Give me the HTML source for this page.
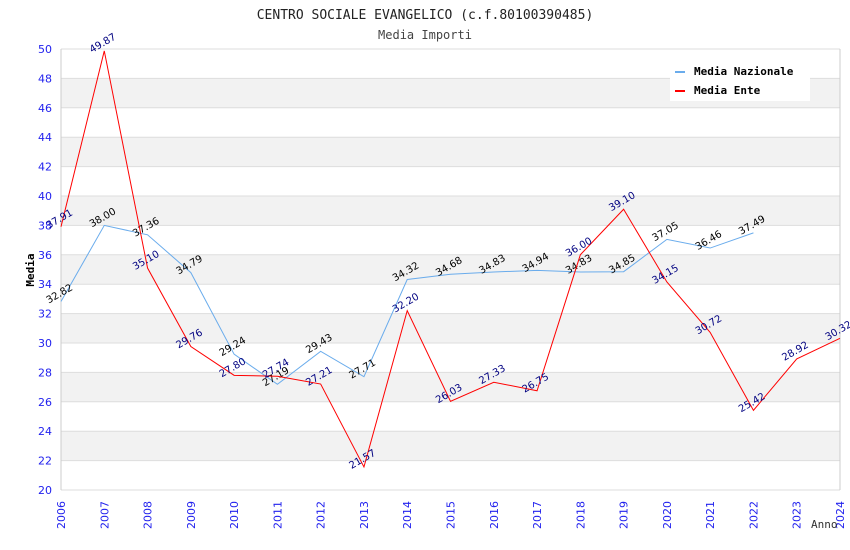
<!DOCTYPE html>
<html><head><meta charset="utf-8"><style>
body{margin:0;background:#fff;}
svg{display:block;}
</style></head><body>
<svg id="chart" width="850" height="550" xmlns="http://www.w3.org/2000/svg">
<text x="425" y="19" text-anchor="middle" font-family="DejaVu Sans Mono, monospace" font-size="13" fill="#222">CENTRO SOCIALE EVANGELICO (c.f.80100390485)</text>
<text x="425" y="39" text-anchor="middle" font-family="DejaVu Sans Mono, monospace" font-size="12" fill="#444">Media Importi</text>
<g id="grid"></g>
<g id="axes"></g>
<g id="series"></g>
<text transform="translate(34,270) rotate(-90)" text-anchor="middle" font-family="DejaVu Sans Mono, monospace" font-size="11" font-weight="bold" fill="#000">Media</text>
<text x="811" y="528" font-family="DejaVu Sans Mono, monospace" font-size="11" fill="#333">Anno</text>
<g>
<rect x="670" y="59" width="140" height="42" fill="#fff"/>
<rect x="675" y="71" width="10" height="2" fill="#6aacec"/>
<text x="694" y="75" font-family="DejaVu Sans Mono, monospace" font-size="11" font-weight="bold">Media Nazionale</text>
<rect x="675" y="90" width="10" height="2" fill="#ff0000"/>
<text x="694" y="94" font-family="DejaVu Sans Mono, monospace" font-size="11" font-weight="bold">Media Ente</text>
</g>
</svg>
<script>
const years=[2006,2007,2008,2009,2010,2011,2012,2013,2014,2015,2016,2017,2018,2019,2020,2021,2022,2023,2024];
const nazionale=[32.82,38.00,37.36,34.79,29.24,27.19,29.43,27.71,34.32,34.68,34.83,34.94,34.83,34.85,37.05,36.46,37.49];
const ente=[37.91,49.87,35.10,29.76,27.80,27.74,27.21,21.57,32.20,26.03,27.33,26.75,36.00,39.10,34.15,30.72,25.42,28.92,30.32];
const yTicks=[20,22,24,26,28,30,32,34,36,38,40,42,44,46,48,50];
const L=61,R=840,T=49,B=490,ymin=20,ymax=50;
const NS='http://www.w3.org/2000/svg';
const X=i=>L+(R-L)*i/(years.length-1);
const Y=v=>B-(v-ymin)/(ymax-ymin)*(B-T);
function mk(t,a,p){const e=document.createElementNS(NS,t);for(const k in a)e.setAttribute(k,a[k]);p.appendChild(e);return e;}
const grid=document.getElementById('grid'),axes=document.getElementById('axes'),ser=document.getElementById('series');
for(let i=0;i<yTicks.length-1;i++){
  if(yTicks[i]%4===2){const r=mk('rect',{x:L,y:Y(yTicks[i+1]),width:R-L,height:Y(yTicks[i])-Y(yTicks[i+1]),fill:'#f2f2f2'},grid);
  
  }
}
yTicks.forEach(v=>{
  const l=mk('line',{x1:L,x2:R,y1:Y(v),y2:Y(v),stroke:'#ddd','stroke-width':1},grid);
  
  
  const t=mk('text',{x:L-9,y:Y(v)+4,'text-anchor':'end','font-family':'DejaVu Sans, sans-serif','font-size':11,fill:'#2222ee'},axes);
  t.textContent=v;
  
  
});
mk('line',{x1:L,x2:L,y1:T,y2:B,stroke:'#ccc'},axes);
mk('line',{x1:R,x2:R,y1:T,y2:B,stroke:'#ccc'},axes);
years.forEach((yr,i)=>{
  const t=mk('text',{transform:`translate(${X(i)+4},${B+39}) rotate(-90)`,'font-family':'DejaVu Sans, sans-serif','font-size':11,fill:'#2222ee'},axes);
  t.textContent=yr;
  
  
});
function series(data,color,lblColor,name){
  const p=mk('polyline',{points:data.map((v,i)=>X(i)+','+Y(v)).join(' '),fill:'none',stroke:color,'stroke-width':1},ser);
  
  
  data.forEach((v,i)=>{
    const t=mk('text',{transform:`translate(${X(i)},${Y(v)-5}) rotate(-30)`,'text-anchor':'middle','font-family':'DejaVu Sans, sans-serif','font-size':10,fill:lblColor},ser);
    t.textContent=v.toFixed(2);
    
    
  });
}
series(nazionale,'#6aacec','#000','nazionale');
series(ente,'#ff0000','#000080','ente');
</script>
</body></html>
